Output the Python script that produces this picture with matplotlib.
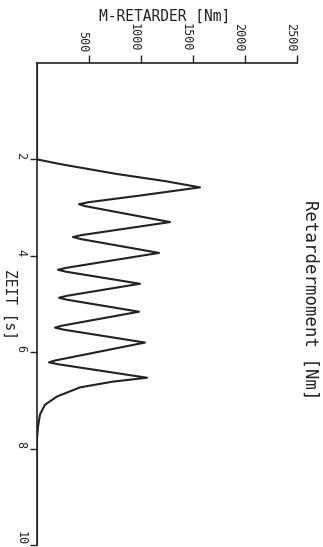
import numpy as np
from matplotlib import pyplot as plt

# values (page is turned 90 deg clockwise)
zeit = [0, 2.0, 2.1, 2.3, 2.45, 2.58, 2.75,
        2.89, 2.93, 2.97, 3.30,
        3.57, 3.61, 3.65, 3.94,
        4.25, 4.29, 4.33, 4.58,
        4.83, 4.87, 4.91, 5.16,
        5.45, 5.49, 5.53, 5.80,
        6.17, 6.21, 6.25, 6.53,
        6.61, 6.73, 6.92, 7.09, 7.29, 7.54, 7.8, 10.0]
moment = [0, 0, 230, 760, 1230, 1567, 990,
          490, 404, 465, 1279,
          430, 346, 415, 1173,
          280, 202, 278, 990,
          287, 212, 285, 981,
          240, 173, 250, 1038,
          178, 115, 203, 1058,
          731, 413, 192, 77, 29, 10, 0, 0]

moment_ticks = [500, 1000, 1500, 2000, 2500]
zeit_ticks = [2, 4, 6, 8, 10]

ink = '#222222'
mono = 'DejaVu Sans Mono'

fig = plt.figure(figsize=(3.23, 5.47), dpi=100)
ax = fig.add_axes([37/323, 2/547, 260/323, 482/547])

ax.plot(moment, zeit, '-', color=ink, lw=1.5, solid_joinstyle='round')
ax.set_xlim(0, 2500)
ax.set_ylim(10, 0)

for s in ['right', 'bottom']:
    ax.spines[s].set_visible(False)
for s in ['left', 'top']:
    ax.spines[s].set_color(ink)
    ax.spines[s].set_linewidth(1.2)

ax.xaxis.tick_top()
ax.set_xticks(moment_ticks)
ax.set_xticklabels([str(v) for v in moment_ticks], rotation=-90,
                   ha='right', va='bottom', family=mono, fontsize=8.5, color=ink)
ax.set_yticks(zeit_ticks)
ax.set_yticklabels([str(v) for v in zeit_ticks], rotation=-90,
                   ha='right', va='bottom', family=mono, fontsize=8.5, color=ink)
ax.tick_params(axis='x', direction='out', length=6, width=1.0, pad=2, colors=ink)
ax.tick_params(axis='y', direction='out', length=5, width=1.0, pad=2, colors=ink)

fig.text(165/323, 1 - 16/547, 'M-RETARDER [Nm]', ha='center', va='center',
         family=mono, fontsize=10.5, color=ink)
fig.text(10/323, 1 - 304/547, 'ZEIT [s]', rotation=-90, ha='center', va='center',
         family=mono, fontsize=10.5, color=ink)
fig.text(310/323, 1 - 300/547, 'Retardermoment [Nm]', rotation=-90,
         ha='center', va='center', family=mono, fontsize=12.5, color=ink)

fig.savefig('out.png', dpi=100)
